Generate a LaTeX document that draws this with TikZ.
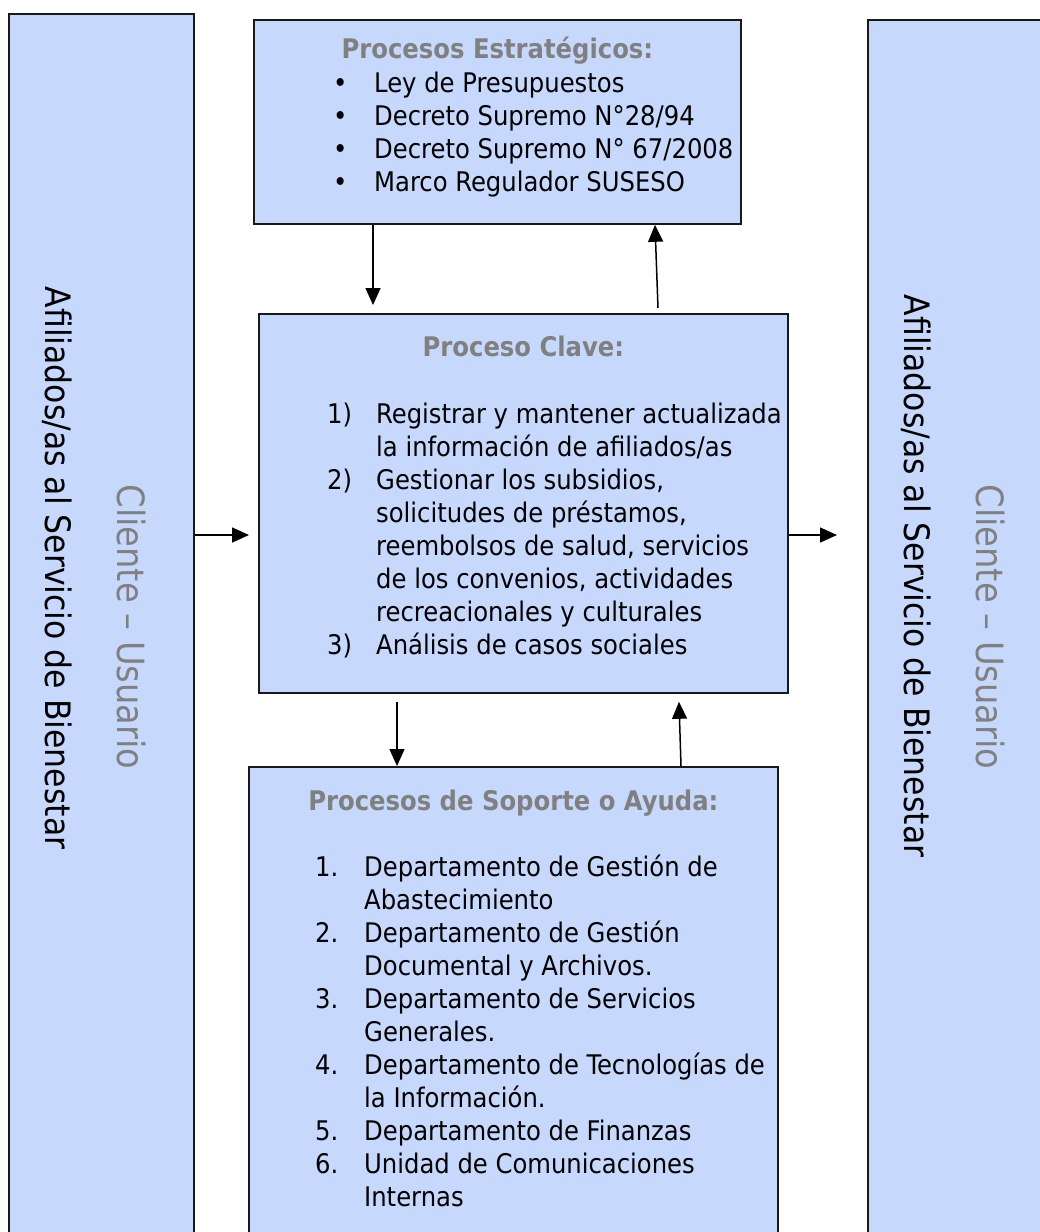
\documentclass[tikz,border=0pt]{standalone}
\usepackage{fontspec}
\setmainfont{DejaVu Sans Condensed}
\usetikzlibrary{arrows.meta,positioning}
\definecolor{boxblue}{RGB}{198,217,253}
\definecolor{headgray}{RGB}{128,128,128}
\newcommand{\fl}{\rule{0pt}{24pt}}
\newcommand{\lab}[2]{\makebox[#1pt][l]{#2}}

\tikzset{
  procbox/.style={draw=black!90, fill=boxblue, line width=1.8pt, anchor=north west, inner sep=0pt},
  head/.style={font=\bfseries\fontsize{27}{33}\selectfont, text=headgray, anchor=base},
  body/.style={font=\fontsize{27}{33}\selectfont, align=left, anchor=north west, inner sep=0pt},
  side/.style={font=\fontsize{35}{40}\selectfont, rotate=-90},
  cli/.style={font=\fontsize{37.5}{42}\selectfont, text=headgray, rotate=-90},
  flow/.style={line width=1.5pt, -{Triangle[length=17pt,width=15pt]}}
}

\begin{document}
\begin{tikzpicture}[x=1pt, y=-1pt]
\useasboundingbox (0,0) rectangle (1040,1232);
\clip (0,0) rectangle (1040,1232);

% side boxes
\node[procbox, line width=2.4pt, minimum width=185pt, minimum height=1240pt] (lcli) at (8,13) {};
\node[procbox, line width=2.4pt, minimum width=200pt, minimum height=1240pt] (rcli) at (867,19) {};

% process boxes
\node[procbox, minimum width=487pt, minimum height=204pt] (estr) at (253,19) {};
\node[procbox, minimum width=529pt, minimum height=379pt] (clave) at (258,313) {};
\node[procbox, minimum width=529pt, minimum height=500pt] (sop) at (248,766) {};

% headings
\node[head] (estrh) at (estr.north |- 0,58) {Procesos Estratégicos:};
\node[head] (claveh) at (clave.north |- 0,356) {Proceso Clave:};
\node[head] (soph) at (sop.north |- 0,810) {Procesos de Soporte o Ayuda:};

% lists
\node[body] (estrl) at (333,68) {\fl\lab{41}{•}Ley de Presupuestos\\
  \lab{41}{•}Decreto Supremo N°28/94\\
  \lab{41}{•}Decreto Supremo N° 67/2008\\
  \lab{41}{•}Marco Regulador SUSESO};
\node[body] (clavel) at (327,399) {\fl\lab{49}{1)}Registrar y mantener actualizada\\
  \lab{49}{}la información de afiliados/as\\
  \lab{49}{2)}Gestionar los subsidios,\\
  \lab{49}{}solicitudes de préstamos,\\
  \lab{49}{}reembolsos de salud, servicios\\
  \lab{49}{}de los convenios, actividades\\
  \lab{49}{}recreacionales y culturales\\
  \lab{49}{3)}Análisis de casos sociales};
\node[body] (sopl) at (315,852) {\fl\lab{49}{1.}Departamento de Gestión de\\
  \lab{49}{}Abastecimiento\\
  \lab{49}{2.}Departamento de Gestión\\
  \lab{49}{}Documental y Archivos.\\
  \lab{49}{3.}Departamento de Servicios\\
  \lab{49}{}Generales.\\
  \lab{49}{4.}Departamento de Tecnologías de\\
  \lab{49}{}la Información.\\
  \lab{49}{5.}Departamento de Finanzas\\
  \lab{49}{6.}Unidad de Comunicaciones\\
  \lab{49}{}Internas};

% side texts
\node[side] (lafil) at (57,568) {Afiliados/as al Servicio de Bienestar};
\node[cli] (lcliente) at (131,627) {Cliente – Usuario};
\node[side] (rafil) at (916,576) {Afiliados/as al Servicio de Bienestar};
\node[cli] (rcliente) at (990,627) {Cliente – Usuario};

% arrows
\draw[flow, shorten >=8pt] (estr.south -| 373,0) -- (clave.north -| 373,0);
\draw[flow] ([yshift=5pt]clave.north -| 658,0) -- (estr.south -| 655,0);
\draw[flow] ([yshift=-8pt]clave.south -| 397,0) -- (sop.north -| 397,0);
\draw[flow] (sop.north -| 681,0) -- ([yshift=-8pt]clave.south -| 679,0);
\draw[flow, shorten >=9pt] (lcli.east |- 0,535) -- (clave.west |- 0,535);
\draw[flow, shorten >=30pt] (clave.east |- 0,535) -- (rcli.west |- 0,535);
\end{tikzpicture}
\end{document}
